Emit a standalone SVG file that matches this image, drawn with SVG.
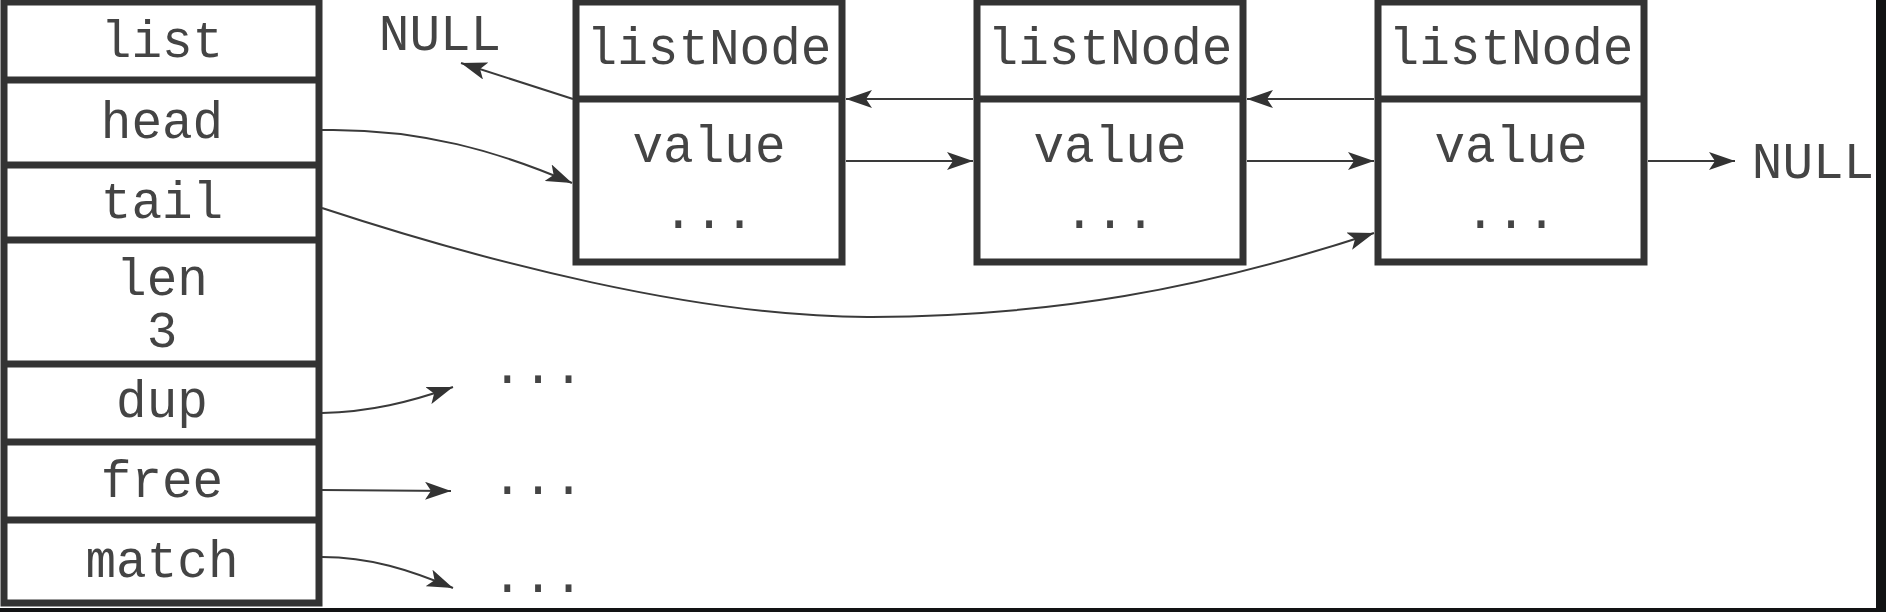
<svg xmlns="http://www.w3.org/2000/svg" width="1886" height="612" viewBox="0 0 1886 612">
<defs>
<style>
.bx{fill:#fff;stroke:#333;stroke-width:7}
.sep{stroke:#333;stroke-width:7}
.t{font-family:"Liberation Mono","Courier New",monospace;font-size:51px;fill:#444;text-anchor:middle}
.ln{fill:none;stroke:#3a3a3a;stroke-width:2}
</style>
<marker id="ah" viewBox="0 0 26 18" refX="26" refY="9" markerWidth="26" markerHeight="18" markerUnits="userSpaceOnUse" orient="auto">
<path d="M0,0 L26,9 L0,18 L6,9 z" fill="#333"/>
</marker>
</defs>
<rect x="0" y="0" width="1886" height="612" fill="#121314"/>
<rect x="0" y="0" width="1876" height="608" fill="#fff"/>

<g id="list">
<rect class="bx" x="4" y="2" width="315" height="601"/>
<line class="sep" x1="4" y1="80" x2="319" y2="80"/>
<line class="sep" x1="4" y1="165" x2="319" y2="165"/>
<line class="sep" x1="4" y1="240" x2="319" y2="240"/>
<line class="sep" x1="4" y1="364" x2="319" y2="364"/>
<line class="sep" x1="4" y1="442" x2="319" y2="442"/>
<line class="sep" x1="4" y1="520" x2="319" y2="520"/>
<text class="t" x="162" y="57">list</text>
<text class="t" x="162" y="138">head</text>
<text class="t" x="162" y="218">tail</text>
<text class="t" x="162" y="295">len</text>
<text class="t" x="162" y="347">3</text>
<text class="t" x="162" y="417">dup</text>
<text class="t" x="162" y="497">free</text>
<text class="t" x="162" y="577">match</text>
</g>

<g id="node1">
<rect class="bx" x="576" y="2" width="266" height="260"/>
<line class="sep" x1="576" y1="99" x2="842" y2="99"/>
<text class="t" x="709" y="64">listNode</text>
<text class="t" x="709" y="162">value</text>
<text class="t" x="709" y="228">...</text>
</g>

<g id="node2">
<rect class="bx" x="977" y="2" width="266" height="260"/>
<line class="sep" x1="977" y1="99" x2="1243" y2="99"/>
<text class="t" x="1110" y="64">listNode</text>
<text class="t" x="1110" y="162">value</text>
<text class="t" x="1110" y="228">...</text>
</g>

<g id="node3">
<rect class="bx" x="1378" y="2" width="266" height="260"/>
<line class="sep" x1="1378" y1="99" x2="1644" y2="99"/>
<text class="t" x="1511" y="64">listNode</text>
<text class="t" x="1511" y="162">value</text>
<text class="t" x="1511" y="228">...</text>
</g>

<g id="null-left"><text class="t" x="440" y="50">NULL</text></g>
<g id="null-right"><text class="t" x="1813" y="178">NULL</text></g>
<g id="dup-target"><text class="t" x="538" y="383">...</text></g>
<g id="free-target"><text class="t" x="538" y="494">...</text></g>
<g id="match-target"><text class="t" x="538" y="592">...</text></g>

<g id="connectors">
<path class="ln" marker-end="url(#ah)" d="M573,99 L461,63"/>
<path class="ln" marker-end="url(#ah)" d="M973,99 L846,99"/>
<path class="ln" marker-end="url(#ah)" d="M1374,99 L1247,99"/>
<path class="ln" marker-end="url(#ah)" d="M846,161 L973,161"/>
<path class="ln" marker-end="url(#ah)" d="M1247,161 L1374,161"/>
<path class="ln" marker-end="url(#ah)" d="M1648,161 L1735,161"/>
<path class="ln" marker-end="url(#ah)" d="M322,130 C420,128 500,152 572,183"/>
<path class="ln" marker-end="url(#ah)" d="M322,208 C480,260 700,318 872,317 C1050,316 1200,290 1374,233"/>
<path class="ln" marker-end="url(#ah)" d="M322,413 C370,412 410,402 453,387"/>
<path class="ln" marker-end="url(#ah)" d="M322,490 L451,491"/>
<path class="ln" marker-end="url(#ah)" d="M322,557 C370,557 410,570 453,588"/>
</g>
</svg>
